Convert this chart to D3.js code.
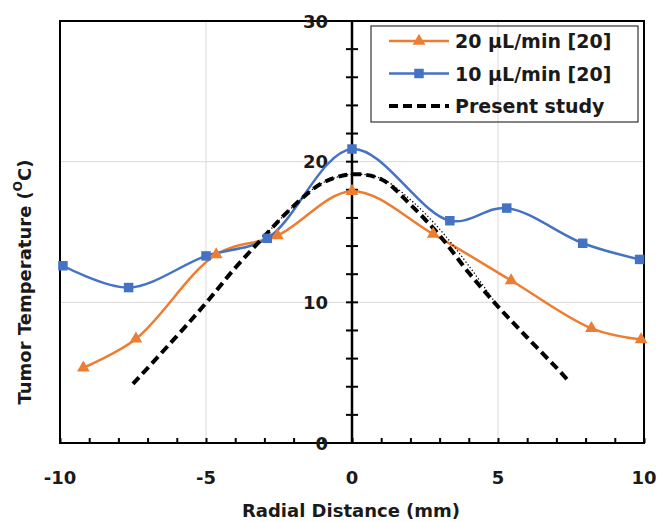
<!DOCTYPE html>
<html>
<head>
<meta charset="utf-8">
<script src="https://cdn.jsdelivr.net/npm/d3@7"></script>
<style>
  html, body { margin: 0; padding: 0; background: #fff; }
  svg { display: block; font-family: "DejaVu Sans", "Open Sans", sans-serif; }
</style>
</head>
<body>
<svg id="chart" width="658" height="522"></svg>
<script>
// Measured tumor temperature against radial distance
const flow20X = [-9.2, -7.4, -4.65, -2.55, 0, 2.78, 5.45, 8.2, 9.9];
const flow20Y = [5.35, 7.4, 13.4, 14.75, 17.9, 14.85, 11.55, 8.15, 7.35];

const flow10X = [-9.9, -7.65, -5.0, -2.9, 0, 3.35, 5.3, 7.9, 9.85];
const flow10Y = [12.6, 11.05, 13.3, 14.55, 20.9, 15.8, 16.7, 14.2, 13.05];

// Present study profile
const presentX = [-7.5, -6, -5, -4, -3, -2, -1, 0, 1, 2, 3, 4, 5, 6, 7, 7.4];
const presentY = [4.2, 7.6, 9.95, 12.45, 14.7, 16.85, 18.5, 19.1, 18.75, 16.95, 14.75, 12.1, 9.7, 7.5, 5.35, 4.45];

// Companion fine profile over the central region
const fineX = [-3, -2, -1, 0, 1, 2, 3, 4, 5];
const fineY = [14.7, 16.85, 18.5, 19.1, 18.8, 17.3, 15.2, 12.6, 9.7];

const xTicks = [-10, -5, 0, 5, 10];
const yTicks = [0, 10, 20, 30];
const legendLabels = ["20 \u00b5L/min [20]", "10 \u00b5L/min [20]", "Present study"];

const ORANGE = "#ED7D31", BLUE = "#4472C4";
const TEXT = "#1a1a1a";

const svg = d3.select("#chart");
const x = d3.scaleLinear().domain([-10, 10]).range([60, 644]);
const y = d3.scaleLinear().domain([0, 30]).range([443, 21]);

// gridlines
const grid = svg.append("g").attr("stroke", "#d9d9d9").attr("stroke-width", 1);
grid.selectAll("line.gx").data([-5, 5]).join("line")
  .attr("x1", d => x(d)).attr("x2", d => x(d))
  .attr("y1", y(0)).attr("y2", y(30));
grid.selectAll("line.gy").data([10, 20]).join("line")
  .attr("x1", x(-10)).attr("x2", x(10))
  .attr("y1", d => y(d)).attr("y2", d => y(d));

// frame
svg.append("rect")
  .attr("x", x(-10)).attr("y", y(30))
  .attr("width", x(10) - x(-10)).attr("height", y(0) - y(30))
  .attr("fill", "none").attr("stroke", "#000").attr("stroke-width", 2);

// x axis: minor ticks pointing into plot, labels below
const xAxis = d3.axisBottom(x).tickValues(d3.range(-10, 11, 1)).tickSize(-5).tickFormat("");
const gx = svg.append("g").attr("transform", `translate(0,${y(0)})`).call(xAxis);
gx.select(".domain").remove();
gx.selectAll(".tick line").attr("stroke", "#000").attr("stroke-width", 2);

svg.append("g").selectAll("text").data(xTicks).join("text")
  .attr("x", d => x(d)).attr("y", 477)
  .attr("text-anchor", "middle").attr("dominant-baseline", "central")
  .attr("font-size", 18).attr("font-weight", 700).attr("fill", TEXT)
  .text(d => d);

// y axis at x = 0 with crossing ticks
svg.append("line")
  .attr("x1", x(0)).attr("x2", x(0)).attr("y1", y(0)).attr("y2", y(30))
  .attr("stroke", "#000").attr("stroke-width", 2.5);
svg.append("g").selectAll("line").data(d3.range(0, 31, 2)).join("line")
  .attr("x1", x(0) - 6).attr("x2", x(0) + 6)
  .attr("y1", d => y(d)).attr("y2", d => y(d))
  .attr("stroke", "#000").attr("stroke-width", 2);
svg.append("g").selectAll("text").data(yTicks).join("text")
  .attr("x", 328).attr("y", d => y(d))
  .attr("text-anchor", "end").attr("dominant-baseline", "central")
  .attr("font-size", 18).attr("font-weight", 700).attr("fill", TEXT)
  .text(d => d);

// axis titles
svg.append("text")
  .attr("x", 351).attr("y", 510)
  .attr("text-anchor", "middle").attr("dominant-baseline", "central")
  .attr("font-size", 18).attr("font-weight", 700).attr("fill", TEXT)
  .text("Radial Distance (mm)");
const yt = svg.append("text")
  .attr("transform", "translate(24,282) rotate(-90)")
  .attr("text-anchor", "middle").attr("dominant-baseline", "central")
  .attr("font-size", 18).attr("font-weight", 700).attr("fill", TEXT);
yt.append("tspan").text("Tumor Temperature (");
yt.append("tspan").attr("font-size", 12).attr("dy", -6).text("O");
yt.append("tspan").attr("dy", 6).text("C)");

// series
const toPts = (xs, ys) => xs.map((v, i) => [v, ys[i]]);
const line = d3.line().x(d => x(d[0])).y(d => y(d[1])).curve(d3.curveCatmullRom.alpha(0.5));

const s20 = toPts(flow20X, flow20Y);
const s10 = toPts(flow10X, flow10Y);
const sp = toPts(presentX, presentY);
const sf = toPts(fineX, fineY);

svg.append("path").datum(s20).attr("d", line)
  .attr("fill", "none").attr("stroke", ORANGE).attr("stroke-width", 2.5);
svg.append("path").datum(s10).attr("d", line)
  .attr("fill", "none").attr("stroke", BLUE).attr("stroke-width", 2.5);

svg.append("path").datum(sp).attr("d", line)
  .attr("fill", "none").attr("stroke", "#000").attr("stroke-width", 4)
  .attr("stroke-dasharray", "9,5");
svg.append("path").datum(sf).attr("d", line)
  .attr("fill", "none").attr("stroke", "#000").attr("stroke-width", 1.3)
  .attr("stroke-dasharray", "1.3,2.2");

const tri = d3.symbol().type(d3.symbolTriangle).size(70);
const sq = d3.symbol().type(d3.symbolSquare).size(90);

svg.append("g").selectAll("path").data(s20).join("path")
  .attr("d", tri).attr("transform", d => `translate(${x(d[0])},${y(d[1])})`)
  .attr("fill", ORANGE);
svg.append("g").selectAll("path").data(s10).join("path")
  .attr("d", sq).attr("transform", d => `translate(${x(d[0])},${y(d[1])})`)
  .attr("fill", BLUE);

// legend
const lg = svg.append("g");
lg.append("rect").attr("x", 371).attr("y", 26).attr("width", 267).attr("height", 96)
  .attr("fill", "none").attr("stroke", "#333").attr("stroke-width", 1.2);
const rows = [
  { label: legendLabels[0], color: ORANGE, w: 2.5, dash: null, sym: tri },
  { label: legendLabels[1], color: BLUE, w: 2.5, dash: null, sym: sq },
  { label: legendLabels[2], color: "#000", w: 4, dash: "9,5", sym: null }
];
const rowY = [41, 73.5, 106];
rows.forEach((r, i) => {
  const g = lg.append("g").attr("transform", `translate(0,${rowY[i]})`);
  g.append("line").attr("x1", 389).attr("x2", 449).attr("y1", 0).attr("y2", 0)
    .attr("stroke", r.color).attr("stroke-width", r.w)
    .attr("stroke-dasharray", r.dash);
  if (r.sym) g.append("path").attr("d", r.sym).attr("transform", "translate(419,0)").attr("fill", r.color);
  g.append("text").attr("x", 455).attr("y", 0).attr("dominant-baseline", "central")
    .attr("font-size", 19).attr("font-weight", 700).attr("fill", TEXT)
    .text(r.label);
});
</script>
</body>
</html>
